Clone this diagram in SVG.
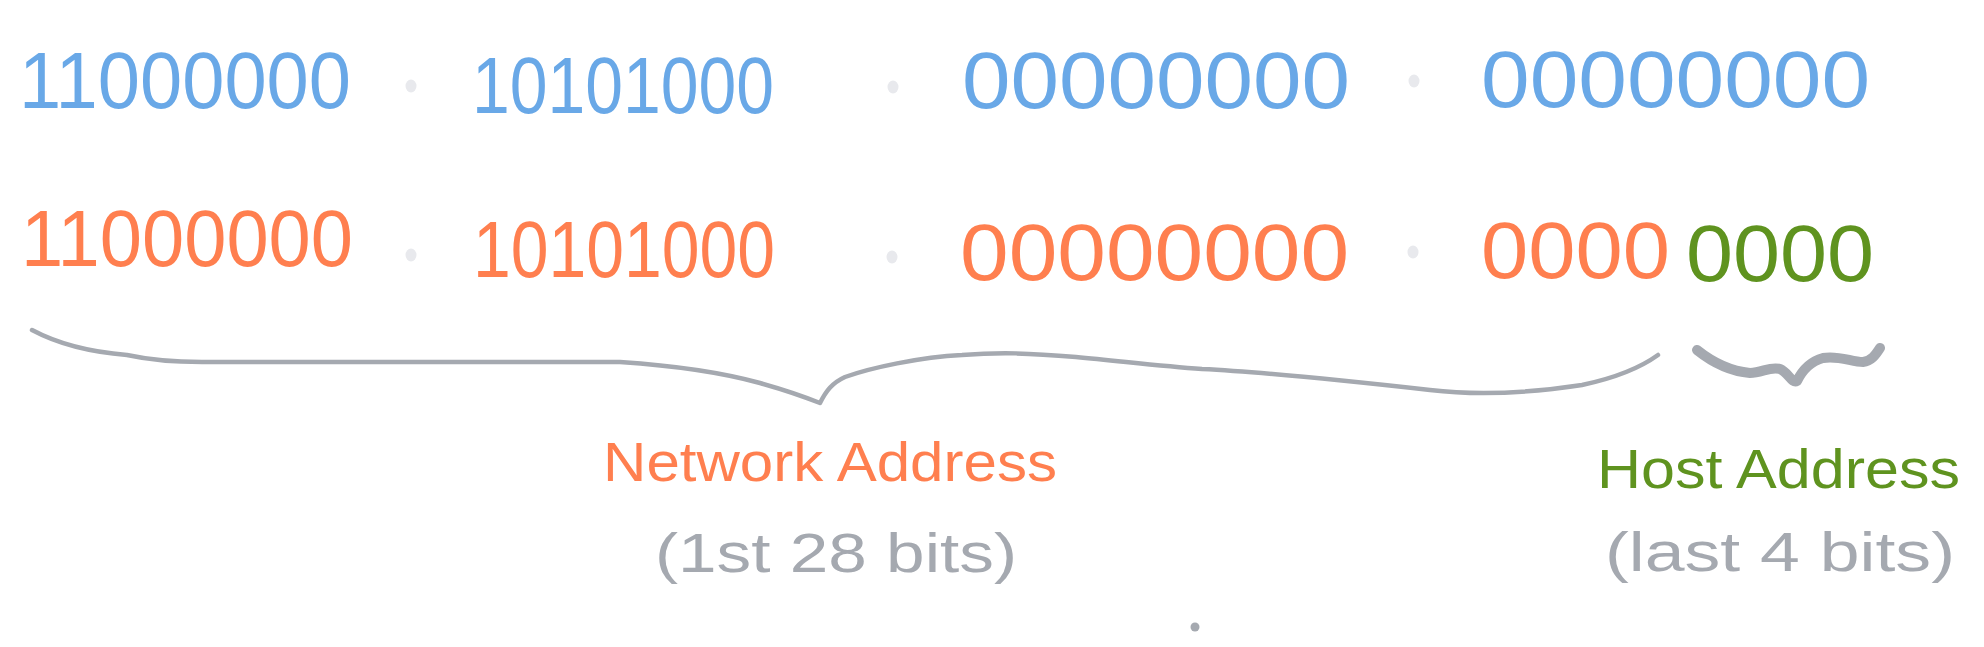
<svg xmlns="http://www.w3.org/2000/svg" width="1984" height="647" viewBox="0 0 1984 647">
<style>
  text { font-family: "Liberation Sans", "DejaVu Sans", sans-serif; }
  .bits { font-size: 80px; }
  .blue { fill: #69a8e7; }
  .orange { fill: #ff7f4f; }
  .green { fill: #5f931f; }
  .gray { fill: #a5a9b0; }
  .label { font-size: 56px; }
  .sub { font-size: 55px; }
  .sep { fill: #e8e9ed; }
  .brace { fill: none; stroke: #a5a9b0; stroke-linecap: round; stroke-linejoin: round; }
</style>
<rect width="1984" height="647" fill="#ffffff"/>

<g id="row-binary-blue">
  <text class="bits blue" x="19" y="108" textLength="332" lengthAdjust="spacingAndGlyphs">11000000</text>
  <text class="bits blue" x="472" y="113" textLength="302" lengthAdjust="spacingAndGlyphs">10101000</text>
  <text class="bits blue" x="962" y="108" textLength="388" lengthAdjust="spacingAndGlyphs">00000000</text>
  <text class="bits blue" x="1481" y="107" textLength="389" lengthAdjust="spacingAndGlyphs">00000000</text>
  <ellipse class="sep" cx="411" cy="86" rx="5.5" ry="6.5"/>
  <ellipse class="sep" cx="893" cy="87" rx="5.5" ry="6.5"/>
  <ellipse class="sep" cx="1414" cy="81" rx="5.5" ry="6.5"/>
</g>

<g id="row-binary-split">
  <text class="bits orange" x="21" y="266" textLength="332" lengthAdjust="spacingAndGlyphs">11000000</text>
  <text class="bits orange" x="473" y="277" textLength="302" lengthAdjust="spacingAndGlyphs">10101000</text>
  <text class="bits orange" x="960" y="280" textLength="389" lengthAdjust="spacingAndGlyphs">00000000</text>
  <text class="bits orange" x="1481" y="278" textLength="189" lengthAdjust="spacingAndGlyphs">0000</text>
  <text class="bits green" x="1686" y="281" textLength="188" lengthAdjust="spacingAndGlyphs">0000</text>
  <ellipse class="sep" cx="411" cy="255" rx="5.5" ry="6.5"/>
  <ellipse class="sep" cx="892" cy="257" rx="5.5" ry="6.5"/>
  <ellipse class="sep" cx="1413" cy="252" rx="5.5" ry="6.5"/>
</g>

<g id="connectors">
  <path class="brace" stroke-width="4.5" d="M32,330 C60,345 90,352 127,355 C150,360 175,362 202,362 L620,362 C680,366 720,372 760,383 C785,390 805,397 820,403 C826,391 832,383 845,377 C870,368 920,357 962,355 C1000,352 1030,353 1076,357 C1120,361 1160,366 1202,369 C1265,372 1340,380 1430,390 C1480,396 1530,393 1582,385 C1615,378 1640,368 1658,355"/>
  <path class="brace" stroke-width="10" d="M1697,350 C1712,362 1728,371 1750,373 C1762,373 1770,366 1780,369 C1788,372 1792,384 1797,381 C1800,375 1808,362 1823,358 C1838,355 1852,362 1863,362 C1872,361 1876,354 1880,348"/>
</g>

<g id="network-label">
  <text class="label orange" x="603" y="481" textLength="454" lengthAdjust="spacingAndGlyphs">Network Address</text>
  <text class="sub gray" x="655" y="572" textLength="362" lengthAdjust="spacingAndGlyphs">(1st 28 bits)</text>
</g>

<g id="host-label">
  <text class="label green" x="1597" y="488" textLength="363" lengthAdjust="spacingAndGlyphs">Host Address</text>
  <text class="sub gray" x="1605" y="571" textLength="350" lengthAdjust="spacingAndGlyphs">(last 4 bits)</text>
</g>

<g id="bottom-dot">
  <circle cx="1195" cy="627" r="4.5" fill="#a5a9b0"/>
</g>
</svg>
